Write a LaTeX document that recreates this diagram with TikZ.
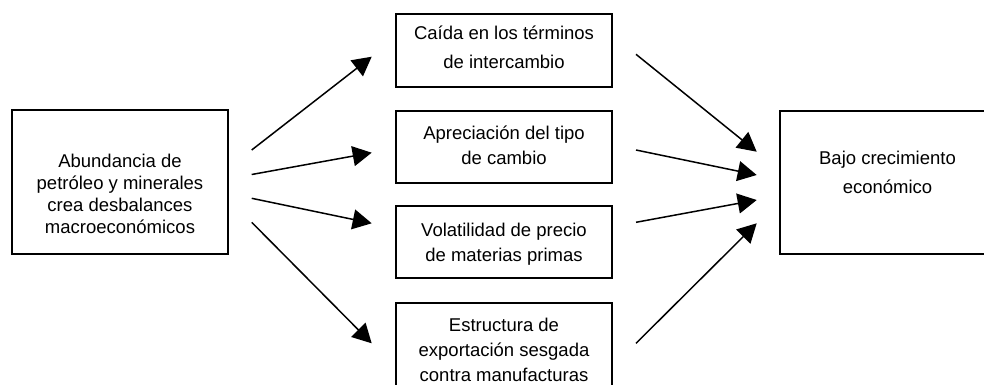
\documentclass[tikz,border=0pt]{standalone}
\usepackage{fontspec}
\setmainfont{Liberation Sans}
\usepackage{tikz}
\usetikzlibrary{arrows.meta,positioning}

\begin{document}
\begin{tikzpicture}[-, x=1pt, y=-1pt, >={Triangle[length=19pt,width=20pt]},
  main node/.style={draw, rectangle, line width=1.3pt, minimum width=216pt, inner sep=0pt},
  label node/.style={align=center, inner sep=0pt, execute at begin node=\strut, execute at end node=\strut},
  every edge/.style={draw, line width=1.5pt}]
\useasboundingbox (0,0) rectangle (984,385);
\clip (0,0) rectangle (984,385);
% boxes
\node[main node, minimum height=144pt] (1) at (120,182) {};
\node[main node, minimum height=73pt] (2) at (504,50.5) {};
\node[main node, minimum height=72pt] (3) at (504,147) {};
\node[main node, minimum height=72pt] (4) at (504,242) {};
\node[main node, minimum height=97pt] (5) at (504,351.5) {};
\node[main node, minimum height=143pt] (6) at (888,182.5) {};
% texts
\node[label node, font=\fontsize{18.5}{22}\selectfont] (t1) at (120,197.5) {Abundancia de\\petróleo y minerales\\crea desbalances\\macroeconómicos};
\node[label node, font=\fontsize{18.5}{29}\selectfont] (t2) at (504,51.5) {Caída en los términos\\de intercambio};
\node[label node, font=\fontsize{18.5}{25}\selectfont] (t3) at (504,149) {Apreciación del tipo\\de cambio};
\node[label node, font=\fontsize{18.5}{25}\selectfont] (t4) at (504,246) {Volatilidad de precio\\de materias primas};
\node[label node, font=\fontsize{18.5}{25}\selectfont] (t5) at (504,353.5) {Estructura de\\exportación sesgada\\contra manufacturas};
\node[label node, font=\fontsize{18.5}{29}\selectfont] (t6) at (887.5,176.5) {Bajo crecimiento\\económico};
% arrow ends
\coordinate (a1) at (251.7,150);
\coordinate (a2) at (251.7,174.5);
\coordinate (a3) at (251.7,198.3);
\coordinate (a4) at (251.7,222.3);
\coordinate (b1) at (371.7,56.7);
\coordinate (b2) at (371.7,152.7);
\coordinate (b3) at (371.7,223.3);
\coordinate (b4) at (371.7,343.3);
\coordinate (c1) at (636,54.3);
\coordinate (c2) at (636,150);
\coordinate (c3) at (636,222.3);
\coordinate (c4) at (636,343.3);
\coordinate (d1) at (756.7,151.7);
\coordinate (d2) at (756.7,175);
\coordinate (d3) at (756.7,200);
\coordinate (d4) at (756.7,223.3);
\path
(a1) edge[->] (b1)
(a2) edge[->] (b2)
(a3) edge[->] (b3)
(a4) edge[->] (b4)
(c1) edge[->] (d1)
(c2) edge[->] (d2)
(c3) edge[->] (d3)
(c4) edge[->] (d4);
\end{tikzpicture}
\end{document}
